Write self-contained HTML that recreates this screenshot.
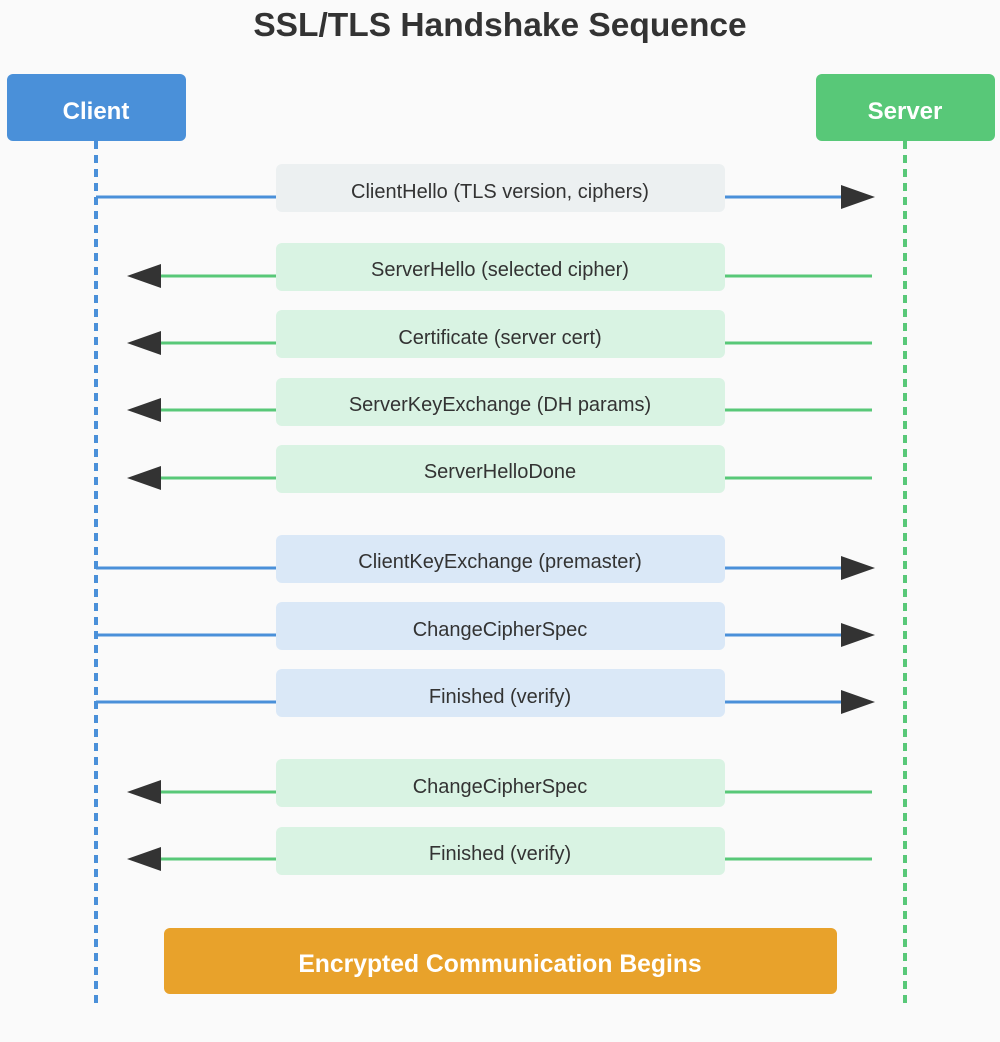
<!DOCTYPE html>
<html><head><meta charset="utf-8"><style>
html,body{margin:0;padding:0;background:#fafafa}
svg{display:block}
text{font-family:"Liberation Sans",sans-serif}
</style></head><body>
<svg width="1000" height="1042" viewBox="0 0 1000 1042" xmlns="http://www.w3.org/2000/svg">
<rect width="1000" height="1042" fill="#fafafa"/>
<text x="500" y="36" text-anchor="middle" font-size="33.5" font-weight="bold" fill="#333">SSL/TLS Handshake Sequence</text>
<line x1="96" y1="141" x2="96" y2="1006" stroke="#4a90d9" stroke-width="4" stroke-dasharray="8,6"/>
<line x1="905" y1="141" x2="905" y2="1006" stroke="#58c878" stroke-width="4" stroke-dasharray="8,6"/>
<rect x="7" y="74" width="179" height="67" rx="6" fill="#4a90d9"/>
<text x="96" y="119" text-anchor="middle" font-size="24" font-weight="bold" fill="#fff">Client</text>
<rect x="816" y="74" width="179" height="67" rx="6" fill="#58c878"/>
<text x="905" y="119" text-anchor="middle" font-size="24" font-weight="bold" fill="#fff">Server</text>
<g font-size="20" fill="#333" text-anchor="middle">
<g stroke="#4a90d9" stroke-width="3">
<line x1="96" y1="197" x2="845" y2="197"/>
<line x1="96" y1="568" x2="845" y2="568"/>
<line x1="96" y1="635" x2="845" y2="635"/>
<line x1="96" y1="702" x2="845" y2="702"/>
</g>
<g stroke="#58c878" stroke-width="3">
<line x1="158" y1="276" x2="872" y2="276"/>
<line x1="158" y1="343" x2="872" y2="343"/>
<line x1="158" y1="410" x2="872" y2="410"/>
<line x1="158" y1="478" x2="872" y2="478"/>
<line x1="158" y1="792" x2="872" y2="792"/>
<line x1="158" y1="859" x2="872" y2="859"/>
</g>
<g fill="#333">
<polygon points="841,185 875,197 841,209"/>
<polygon points="841,556 875,568 841,580"/>
<polygon points="841,623 875,635 841,647"/>
<polygon points="841,690 875,702 841,714"/>
<polygon points="161,264 127,276 161,288"/>
<polygon points="161,331 127,343 161,355"/>
<polygon points="161,398 127,410 161,422"/>
<polygon points="161,466 127,478 161,490"/>
<polygon points="161,780 127,792 161,804"/>
<polygon points="161,847 127,859 161,871"/>
</g>
<rect x="276" y="164" width="449" height="48" rx="6" fill="#ecf0f1"/>
<rect x="276" y="243" width="449" height="48" rx="6" fill="#d9f3e3"/>
<rect x="276" y="310" width="449" height="48" rx="6" fill="#d9f3e3"/>
<rect x="276" y="378" width="449" height="48" rx="6" fill="#d9f3e3"/>
<rect x="276" y="445" width="449" height="48" rx="6" fill="#d9f3e3"/>
<rect x="276" y="535" width="449" height="48" rx="6" fill="#dae8f7"/>
<rect x="276" y="602" width="449" height="48" rx="6" fill="#dae8f7"/>
<rect x="276" y="669" width="449" height="48" rx="6" fill="#dae8f7"/>
<rect x="276" y="759" width="449" height="48" rx="6" fill="#d9f3e3"/>
<rect x="276" y="827" width="449" height="48" rx="6" fill="#d9f3e3"/>
<text x="500" y="198">ClientHello (TLS version, ciphers)</text>
<text x="500" y="276">ServerHello (selected cipher)</text>
<text x="500" y="344">Certificate (server cert)</text>
<text x="500" y="411">ServerKeyExchange (DH params)</text>
<text x="500" y="478">ServerHelloDone</text>
<text x="500" y="568">ClientKeyExchange (premaster)</text>
<text x="500" y="636">ChangeCipherSpec</text>
<text x="500" y="703">Finished (verify)</text>
<text x="500" y="793">ChangeCipherSpec</text>
<text x="500" y="860">Finished (verify)</text>
</g>
<rect x="164" y="928" width="673" height="66" rx="6" fill="#e8a22b"/>
<text x="500" y="972" text-anchor="middle" font-size="24.7" font-weight="bold" fill="#fff">Encrypted Communication Begins</text>
</svg>
</body></html>
